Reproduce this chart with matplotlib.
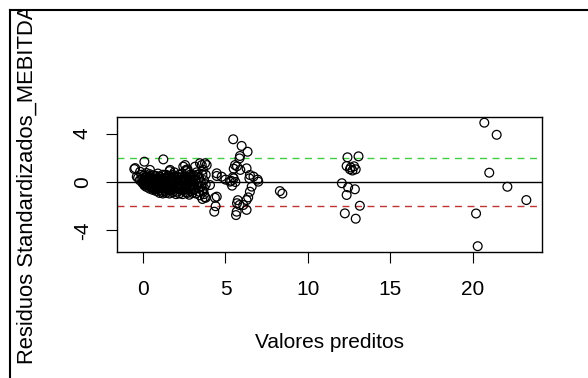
import matplotlib
matplotlib.use('Agg')
import matplotlib.pyplot as plt
from matplotlib.patches import Rectangle
from matplotlib.lines import Line2D

plt.rcParams['font.family'] = ['Liberation Sans', 'DejaVu Sans']
plt.rcParams['axes.unicode_minus'] = False

# fitted values (x) and standardized residuals (y)
# dense block near 0..4
pred_cluster = [-0.3, -0.2, -0.1, 0.0, 0.05, 0.1, 0.15, 0.2, -0.05, 0.1, 0.2, 0.0, 0.25,
                0.3, 0.35, 0.4, 0.45, 0.5, 0.55, 0.6, 0.65, 0.7, 0.75, 0.8, 0.4, 0.6, 0.7, 0.5, 0.3,
                0.85, 0.9, 0.95, 1.0, 1.05, 1.1, 1.15, 1.2, 1.25, 1.3, 1.35, 1.4, 1.45, 1.5, 0.9, 1.0, 1.2, 1.1, 1.3, 1.4,
                1.55, 1.6, 1.65, 1.7, 1.75, 1.8, 1.85, 1.9, 1.95, 2.0, 2.05, 2.1, 2.15, 2.2, 1.6, 1.7, 1.85, 2.0, 2.1, 1.55,
                2.25, 2.3, 2.35, 2.4, 2.45, 2.5, 2.55, 2.6, 2.65, 2.7, 2.75, 2.8, 2.85, 2.9, 2.95, 3.0, 2.4, 2.6, 2.8, 2.7,
                3.05, 3.1, 3.15, 3.2, 3.25, 3.3, 3.35, 3.4, 3.45, 3.5, 3.55, 3.6, 3.65, 3.7, 3.75, 3.8, 3.4, 3.6, 3.7, 3.3,
                0.1, 0.3, 0.5, 0.7, 0.9, 1.1, 1.3, 1.5, 1.7, 1.9, 2.1, 2.3, 2.5, 2.7, 2.9, 3.1,
                0.2, 0.4, 0.6, 0.8, 1.0, 1.2, 1.4, 1.6, 1.8, 2.0, 2.2, 2.4, 2.6, 2.8, 3.0,
                -0.1, 0.2, 0.4, 0.6, 0.8, 1.0, 1.2, 1.5, 1.8, 2.2,
                0.05, 0.25, 0.45, 0.65, 0.85, 1.05, 1.25, 1.45, 1.65, 1.85, 2.05, 2.25, 2.45, 2.65, 2.85, 3.05,
                0.05, 0.25, 0.45, 0.65, 0.85, 1.05, 1.25, 1.45, 1.65, 1.85, 2.05, 2.25, 2.45, 2.65, 2.85, 3.05,
                0.15, 0.35, 0.55, 0.75, 0.95, 1.15, 1.35, 1.55, 1.75, 1.95, 2.15, 2.35, 2.55, 2.75, 2.95, 3.15]
resid_cluster = [0.35, 0.15, 0.25, 0.05, -0.1, 0.3, -0.2, 0.1, -0.05, -0.3, 0.45, 0.5, -0.1,
                 0.2, -0.25, 0.05, -0.4, 0.35, -0.1, 0.15, -0.5, 0.0, -0.3, 0.25, 0.5, -0.2, -0.6, -0.45, -0.15,
                 -0.1, -0.55, 0.1, -0.7, 0.4, -0.3, -0.8, 0.2, -0.5, 0.0, -0.75, 0.6, -0.2, -0.6, 0.7, -0.2, -0.15, 0.1, -0.45, 0.3,
                 0.1, -0.4, 0.5, -0.7, 0.25, -0.15, -0.55, 0.8, 0.0, -0.35, -0.8, 0.4, -0.1, -0.6, 0.9, 0.0, 0.45, 0.2, -0.45, -0.7,
                 0.15, -0.3, 0.7, -0.7, 0.0, 0.4, -0.5, 0.9, -0.15, -0.9, 0.3, -0.4, 0.6, -0.75, 0.05, -0.25, 0.3, -0.3, 0.1, 1.05,
                 0.5, -0.6, 0.2, -0.95, 0.8, -0.1, -0.5, 0.35, -1.1, 0.0, -0.35, 0.6, -0.8, 0.15, -1.25, -0.2, -0.8, -1.4, -0.5, 0.6,
                 0.0, 0.0, -0.1, -0.15, -0.3, -0.5, -0.3, -0.4, -0.3, -0.4, -0.2, -0.5, -0.2, -0.5, -0.3, -0.3,
                 -0.4, -0.55, -0.65, -0.75, -0.9, -0.95, -0.9, -0.95, -0.85, -1.0, -0.95, -1.0, -0.85, -1.05, -0.9,
                 0.6, 0.75, 0.65, 0.55, 0.5, 0.45, 0.6, 0.5, 0.6, 0.6,
                 -0.2, -0.25, -0.3, -0.35, -0.4, -0.45, -0.45, -0.5, -0.5, -0.5, -0.55, -0.55, -0.6, -0.6, -0.6, -0.65,
                 0.15, 0.15, 0.1, 0.1, 0.05, 0.05, 0.0, 0.0, 0.0, 0.05, 0.05, 0.1, 0.1, 0.15, 0.15, 0.2,
                 0.4, 0.35, 0.3, 0.3, 0.25, 0.25, 0.3, 0.3, 0.35, 0.35, 0.4, 0.4, 0.45, 0.45, 0.5, 0.5]

# scattered points around the block
pred_scatter = [-0.53, -0.38, 0.08, 1.23, -0.18, -0.48, 0.42, 1.64, 2.44, 2.6, 2.55, 3.15, 3.64, 3.8,
                3.45, 3.86, 3.56, 3.76, 4.06, 3.6, 3.7, 3.8, 4.47, 4.4, 4.36, 4.32, 4.47]
resid_scatter = [1.07, 0.44, 1.68, 1.87, 0.85, 1.15, 1.0, 1.0, 1.27, 1.0, 1.4, 1.27, 1.0, 0.6,
                 1.55, 1.4, 1.4, 1.55, -0.25, -0.7, -1.0, -1.3, 0.5, -2.0, -1.3, -2.45, -1.21]

# points between 4.5 and 7
pred_mid = [4.47, 4.77, 5.0, 5.27, 5.35, 5.5, 5.6, 5.45, 5.4,
            5.47, 5.98, 6.34, 5.88, 5.85, 5.58, 5.5, 5.7, 5.9, 6.28, 6.48, 6.45, 6.7, 6.95, 6.99,
            6.59, 6.48, 6.38, 6.28, 5.75, 5.7, 5.85, 6.08, 6.28, 5.68, 5.64]
resid_mid = [0.72, 0.44, 0.2, 0.03, 0.1, 0.3, 0.0, 0.4, -0.3,
             3.53, 2.98, 2.5, 2.15, 1.95, 1.4, 1.1, 1.3, 1.0, 1.13, 0.58, 0.3, 0.45, 0.2, 0.03,
             -0.38, -0.8, -1.27, -1.49, -1.5, -1.75, -1.9, -1.9, -2.3, -2.45, -2.73]

# points beyond 8
pred_far = [8.3, 8.45,
            12.4, 13.07, 12.35, 12.6, 12.8, 12.9, 12.7, 12.55, 12.06, 12.44, 12.85, 12.35, 13.15, 12.24, 12.9,
            20.7, 21.45, 21.0, 22.1, 23.25, 20.2, 20.3]
resid_far = [-0.75, -0.95,
             2.04, 2.12, 1.32, 1.2, 1.3, 1.05, 0.95, 1.05, -0.1, -0.44, -0.6, -1.07, -1.96, -2.59, -3.03,
             4.9, 3.9, 0.77, -0.39, -1.49, -2.6, -5.3]

x = pred_cluster + pred_scatter + pred_mid + pred_far
y = resid_cluster + resid_scatter + resid_mid + resid_far

W, H = 588, 378
fig = plt.figure(figsize=(W / 100, H / 100), dpi=100)
ax = fig.add_axes([117 / W, 1 - 252 / H, (542 - 117) / W, (252 - 117) / H])

ax.scatter(x, y, s=40, facecolors='none', edgecolors='black', linewidths=0.9, zorder=3)
ax.axhline(0, color='black', lw=1)
ax.axhline(2, color='#44cc44', lw=1, ls=(0, (5, 4)))
ax.axhline(-2, color='#c03333', lw=1, ls=(0, (5, 4)))

ax.set_xlim(-1.58, 24.2)
ax.set_ylim(-5.78, 5.37)
ax.set_xticks([0, 5, 10, 15, 20])
ax.set_yticks([-4, 0, 4])
ax.tick_params(direction='out', length=8, width=0.8, labelsize=15, pad=12)
ax.tick_params(axis='y', pad=10)
for lab in ax.get_yticklabels():
    lab.set_rotation(90)
    lab.set_va('center')
for sp in ax.spines.values():
    sp.set_linewidth(1)

fig.text(329.5 / W, 1 - 343 / H, 'Valores preditos', ha='center', va='center', fontsize=15)
fig.text(27 / W, 1 - 184.5 / H, 'Residuos Standardizados_MEBITDA', rotation=90,
         ha='center', va='center', fontsize=15.8)

# screenshot crop: white strip on top, frame lines on top and left
fig.patches.append(Rectangle((0, 1 - 10 / H), 1, 10 / H, transform=fig.transFigure,
                             facecolor='white', edgecolor='none', zorder=5))
fig.lines.append(Line2D([10 / W, 1], [1 - 10 / H, 1 - 10 / H], transform=fig.transFigure,
                        color='black', lw=1.5, zorder=6))
fig.lines.append(Line2D([10 / W, 10 / W], [0, 1 - 10 / H], transform=fig.transFigure,
                        color='black', lw=1.5, zorder=6))

fig.savefig('out.png', dpi=100)
